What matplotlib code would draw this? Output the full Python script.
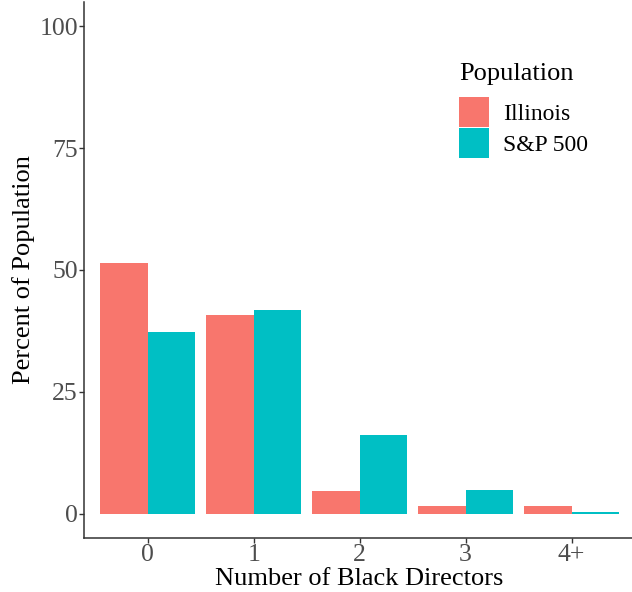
import numpy as np
import matplotlib
matplotlib.use("Agg")
from matplotlib import pyplot as plt

categories = ["0", "1", "2", "3", "4+"]
illinois = [51.5, 40.7, 4.7, 1.6, 1.6]
sp500 = [37.2, 41.7, 16.2, 4.9, 0.3]
series_names = ["Illinois", "S&P 500"]
colors = ["#F8766D", "#00BFC4"]
yticks = [0, 25, 50, 75, 100]

plt.rcParams['font.family'] = ['Liberation Serif', 'DejaVu Serif']

fig = plt.figure(figsize=(6.32, 5.92), dpi=100)
ax = fig.add_axes([0.133, 0.091, 0.872, 0.906])

x = np.arange(len(categories))
w = 0.45
ax.bar(x - w / 2, illinois, width=w, color=colors[0], label=series_names[0])
ax.bar(x + w / 2, sp500, width=w, color=colors[1], label=series_names[1])

ax.set_xlim(-0.6, len(categories) - 0.4)
ax.set_ylim(-5, 105)
ax.set_xticks(x)
ax.set_xticklabels(categories)
ax.set_yticks(yticks)
ax.tick_params(axis='both', labelsize=18.5, labelcolor='#4D4D4D', color='#333333',
               length=3.5, width=1, pad=1)
ax.set_xlabel("Number of Black Directors", fontsize=19, labelpad=1)
ax.set_ylabel("Percent of Population", fontsize=19, labelpad=3)

for s in ['top', 'right']:
    ax.spines[s].set_visible(False)
for s in ['left', 'bottom']:
    ax.spines[s].set_color('#333333')
    ax.spines[s].set_linewidth(1.1)

leg = fig.legend(title="Population", frameon=False, fontsize=17, title_fontsize=19,
                 loc='upper left', bbox_to_anchor=(459 / 632, 1 - 63 / 592),
                 handlelength=1.27, handleheight=1.55, handletextpad=0.6,
                 labelspacing=0.05, borderaxespad=0, borderpad=0)
leg._legend_box.align = "left"
leg._legend_box.sep = 9

fig.savefig("out.png", dpi=100)
